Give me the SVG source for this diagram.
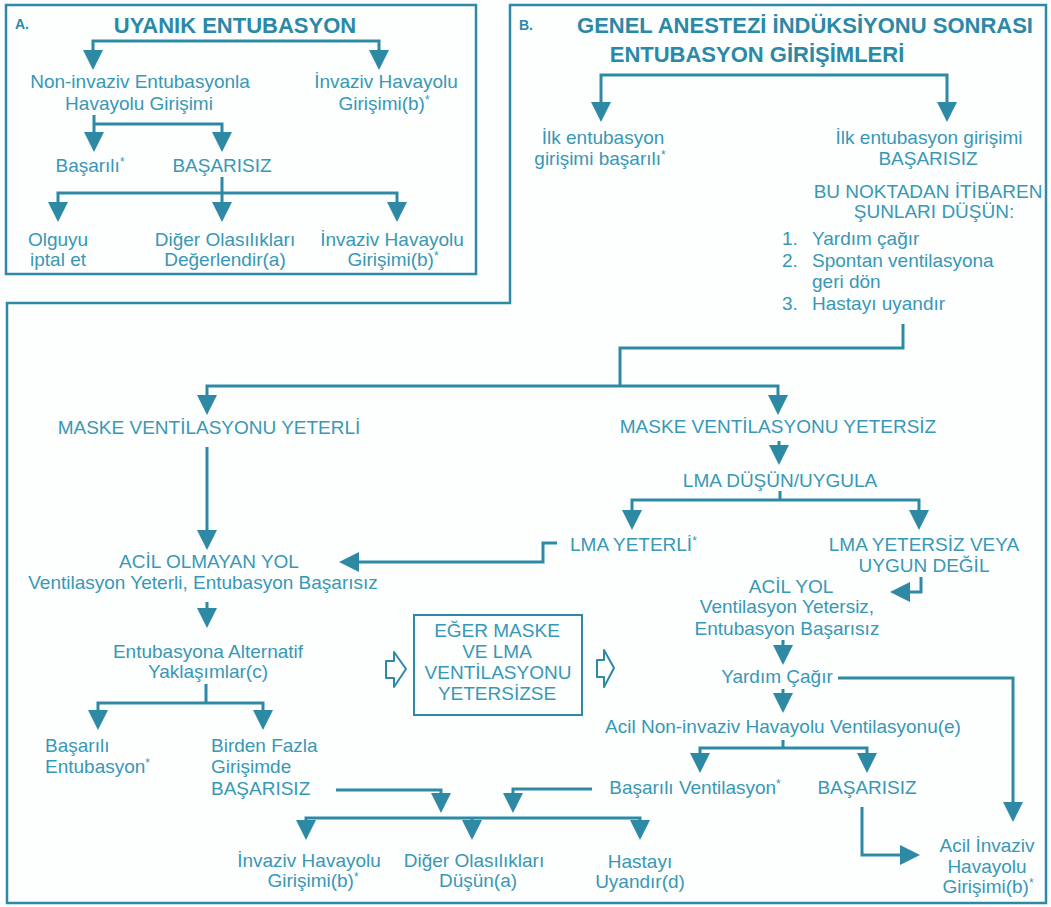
<svg xmlns="http://www.w3.org/2000/svg" width="1051" height="907" viewBox="0 0 1051 907">
<style>
text{font-family:"Liberation Sans",Arial,sans-serif;font-size:19px;fill:#3898b5;text-anchor:middle}
.t{font-size:22px;font-weight:bold;fill:#2b89a6}
.lbl{font-size:14px;font-weight:bold;fill:#2b89a6;text-anchor:start}
.s{text-anchor:start}
.frame{fill:none;stroke:#2e89a5;stroke-width:2.5}
.c path{fill:none;stroke:#2e89a5;stroke-width:3}
.c path.a{marker-end:url(#ah)}
.c path.b{marker-start:url(#ah);marker-end:url(#ah)}
.hollow{fill:#fff;stroke:#2e89a5;stroke-width:2;stroke-linejoin:round}
</style>
<defs>
<marker id="ah" viewBox="0 0 20 20" markerWidth="20" markerHeight="20" refX="15" refY="10" markerUnits="userSpaceOnUse" orient="auto-start-reverse">
<path d="M0,0 L20,10 L0,20 z" fill="#2e89a5"/>
</marker>
</defs>
<rect width="1051" height="907" fill="#fdfefe"/>

<g id="frames">
<rect class="frame" x="6" y="5" width="470" height="269"/>
<path class="frame" d="M510,5 H1046 V903 H7 V303 H510 Z"/>
</g>

<g class="c" id="connectors">
<path class="b" d="M93,65 V41 H379 V65"/>
<path class="a" d="M94,115 V147"/>
<path class="a" d="M94,124 H222 V147"/>
<path class="a" d="M222,177 V217"/>
<path class="b" d="M58,217 V193 H397 V217"/>
<path class="b" d="M601,117 V75 H947 V117"/>
<path d="M903,324 V348 H620 V386"/>
<path class="b" d="M207,410 V386 H778 V410"/>
<path class="a" d="M207,447 V545"/>
<path class="a" d="M779,441 V460"/>
<path d="M780,491 V500"/>
<path class="b" d="M632,525 V500 H919 V525"/>
<path class="a" d="M557,543 H543 V562 H344"/>
<path class="a" d="M921,577 V592 H895"/>
<path class="a" d="M207,602 V623"/>
<path d="M206,684 V703"/>
<path class="b" d="M98,725 V703 H263 V725"/>
<path class="a" d="M783,640 V660"/>
<path class="a" d="M838,678 H1013 V817"/>
<path class="a" d="M783,689 V708"/>
<path d="M783,740 V748"/>
<path class="b" d="M700,768 V748 H867 V768"/>
<path class="a" d="M862,807 V855 H915"/>
<path class="a" d="M592,789 H513 V808"/>
<path class="a" d="M336,790 H441 V808"/>
<path class="b" d="M306,835 V818 H640 V835"/>
<path class="a" d="M472,818 V835"/>
</g>

<g id="hollow-arrows">
<path class="hollow" d="M386,661 H394 V652 L406,669 L394,687 V678 H386 Z"/>
<path class="hollow" d="M597,660 H604 V650 L614,668 L604,687 V677 H597 Z"/>
</g>

<g id="A-title"><text class="lbl" x="15" y="29">A.</text><text class="t" x="235" y="33">UYANIK ENTUBASYON</text></g>
<g id="A-noninvaziv"><text x="140" y="88">Non-invaziv Entubasyonla</text><text x="139" y="110">Havayolu Girişimi</text></g>
<g id="A-invaziv1"><text x="386" y="88">İnvaziv Havayolu</text><text x="384" y="110">Girişimi(b)<tspan font-size="12" dy="-6">*</tspan></text></g>
<g id="A-basarili"><text x="90" y="172">Başarılı<tspan font-size="12" dy="-6">*</tspan></text></g>
<g id="A-basarisiz"><text x="222" y="172">BAŞARISIZ</text></g>
<g id="A-iptal"><text x="58" y="246">Olguyu</text><text x="58" y="266">iptal et</text></g>
<g id="A-diger"><text x="225" y="246">Diğer Olasılıkları</text><text x="225" y="266">Değerlendir(a)</text></g>
<g id="A-invaziv2"><text x="392" y="246">İnvaziv Havayolu</text><text x="393" y="266">Girişimi(b)<tspan font-size="12" dy="-6">*</tspan></text></g>

<g id="B-title"><text class="lbl" x="519" y="30">B.</text><text class="t" x="805" y="33">GENEL ANESTEZİ İNDÜKSİYONU SONRASI</text><text class="t" x="757" y="62">ENTUBASYON GİRİŞİMLERİ</text></g>
<g id="B-ilk-basarili"><text x="603" y="144">İlk entubasyon</text><text x="600" y="165">girişimi başarılı<tspan font-size="12" dy="-6">*</tspan></text></g>
<g id="B-ilk-basarisiz"><text x="929" y="144">İlk entubasyon girişimi</text><text x="928" y="165">BAŞARISIZ</text>
<text x="928" y="198">BU NOKTADAN İTİBAREN</text><text x="934" y="218">ŞUNLARI DÜŞÜN:</text>
<text class="s" x="782" y="245">1.</text><text class="s" x="812" y="245">Yardım çağır</text>
<text class="s" x="782" y="267">2.</text><text class="s" x="812" y="267">Spontan ventilasyona</text>
<text class="s" x="812" y="288">geri dön</text>
<text class="s" x="782" y="310">3.</text><text class="s" x="812" y="310">Hastayı uyandır</text></g>

<g id="maske-yeterli"><text x="209" y="434">MASKE VENTİLASYONU YETERLİ</text></g>
<g id="maske-yetersiz"><text x="778" y="433">MASKE VENTİLASYONU YETERSİZ</text></g>
<g id="lma"><text x="780" y="487">LMA DÜŞÜN/UYGULA</text></g>
<g id="lma-yeterli"><text class="s" x="570" y="551">LMA YETERLİ<tspan font-size="12" dy="-6">*</tspan></text></g>
<g id="lma-yetersiz"><text x="924" y="551">LMA YETERSİZ VEYA</text><text x="924" y="572">UYGUN DEĞİL</text></g>
<g id="acil-olmayan"><text x="209" y="568">ACİL OLMAYAN YOL</text><text x="203" y="589">Ventilasyon Yeterli, Entubasyon Başarısız</text></g>
<g id="acil-yol"><text x="791" y="593">ACİL YOL</text><text x="787" y="613">Ventilasyon Yetersiz,</text><text x="787" y="635">Entubasyon Başarısız</text></g>
<g id="alternatif"><text x="208" y="658">Entubasyona Alternatif</text><text x="208" y="678">Yaklaşımlar(c)</text></g>
<g id="eger-kutu"><rect x="414" y="615" width="168" height="100" fill="none" stroke="#2e89a5" stroke-width="2"/>
<text x="497" y="637">EĞER MASKE</text><text x="497" y="658">VE LMA</text><text x="498" y="679">VENTİLASYONU</text><text x="497" y="700">YETERSİZSE</text></g>
<g id="yardim"><text x="777" y="683">Yardım Çağır</text></g>
<g id="acil-noninvaziv"><text x="783" y="733">Acil Non-invaziv Havayolu Ventilasyonu(e)</text></g>
<g id="basarili-entubasyon"><text class="s" x="45" y="752">Başarılı</text><text class="s" x="45" y="773">Entubasyon<tspan font-size="12" dy="-6">*</tspan></text></g>
<g id="birden-fazla"><text class="s" x="211" y="752">Birden Fazla</text><text class="s" x="211" y="773">Girişimde</text><text class="s" x="211" y="795">BAŞARISIZ</text></g>
<g id="basarili-vent"><text x="695" y="794">Başarılı Ventilasyon<tspan font-size="12" dy="-6">*</tspan></text></g>
<g id="basarisiz-vent"><text x="867" y="794">BAŞARISIZ</text></g>
<g id="invaziv3"><text x="309" y="867">İnvaziv Havayolu</text><text x="313" y="887">Girişimi(b)<tspan font-size="12" dy="-6">*</tspan></text></g>
<g id="diger2"><text x="474" y="867">Diğer Olasılıkları</text><text x="478" y="887">Düşün(a)</text></g>
<g id="uyandir"><text x="640" y="868">Hastayı</text><text x="640" y="888">Uyandır(d)</text></g>
<g id="acil-invaziv"><text x="987" y="852">Acil İnvaziv</text><text x="987" y="873">Havayolu</text><text x="988" y="893">Girişimi(b)<tspan font-size="12" dy="-6">*</tspan></text></g>
</svg>
